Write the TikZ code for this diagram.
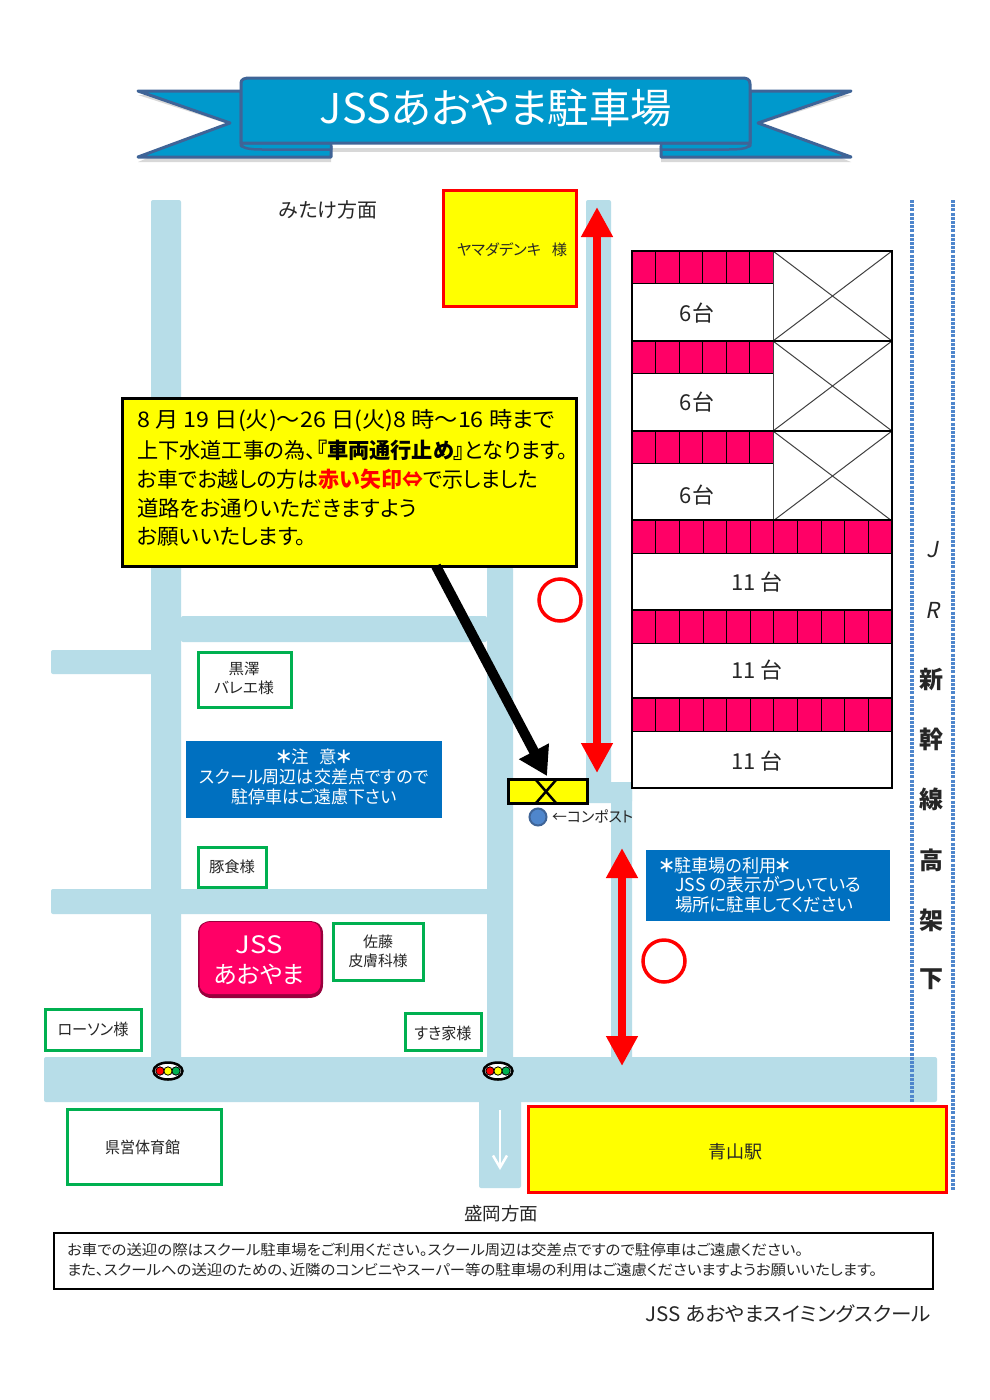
\documentclass[tikz,border=0pt]{standalone}
\usepackage{fontspec}
\usepackage{graphicx}
\setmainfont[RawFeature={+palt}]{Noto Sans CJK JP}
\newfontfamily\slantfont[FakeSlant=0.2]{Noto Sans CJK JP}
\usetikzlibrary{arrows.meta,shapes.geometric}
\definecolor{road}{HTML}{B7DDE8}
\definecolor{pinkc}{HTML}{FF0066}
\definecolor{bannerc}{HTML}{0099CC}
\definecolor{bannerl}{HTML}{3F6497}
\definecolor{greenb}{HTML}{00B050}
\definecolor{blueb}{HTML}{0070C0}
\definecolor{txt}{HTML}{262626}
\definecolor{dotb}{HTML}{4F86CC}
\definecolor{yel}{RGB}{255,255,0}
\definecolor{redc}{RGB}{255,0,0}
\newcommand{\fs}[1]{\fontsize{#1}{\fpeval{#1*1.25}pt}\selectfont}
\newcommand{\fw}[2]{\resizebox{#1pt}{\height}{#2}}
\tikzset{
 x=1pt,y=-1pt,
 txtnode/.style={inner sep=0pt,text=txt,align=center},
 greenbox/.style={draw=greenb,line width=3pt,fill=white,text=txt,align=center,inner sep=0pt,font=\fs{15}},
 bluebox/.style={fill=blueb,text=white,align=center,inner sep=0pt,font=\fs{17.5}},
 yellowred/.style={draw=redc,line width=3pt,fill=yel,text=txt,align=center,inner sep=0pt},
 roadc/.style={fill=road,rounded corners=2pt},
 redarrow/.style={draw=redc,line width=8pt,{Triangle[length=30pt,width=30pt]}-{Triangle[length=30pt,width=30pt]}},
 blackarrow/.style={draw=black,line width=10pt,-{Triangle[length=28pt,width=32pt]}},
 banner/.style={draw=bannerl,line width=3pt,fill=bannerc,line join=round},
 cell/.style={draw=black,line width=0.7pt,fill=pinkc},
 frame/.style={draw=black,line width=2.5pt},
 thin/.style={draw=black!75,line width=1pt},
 dotline/.style={draw=dotb,line width=3.5pt,dash pattern=on 3pt off 1.2pt},
}
\begin{document}
\begin{tikzpicture}
\useasboundingbox (0,0) rectangle (990,1400);
\fill[white] (0,0) rectangle (990,1400);
% banner shadow
\fill[black!30,opacity=.5] (138,95) -- (241,95) -- (241,150) -- (331,150) -- (331,162) -- (138,162) -- (228,124) -- cycle;
\fill[black!30,opacity=.5] (851,95) -- (750,95) -- (750,150) -- (661,150) -- (661,162) -- (851,162) -- (760,124) -- cycle;
\fill[black!30,opacity=.5] (241,148) rectangle (750,152);
% banner tails
\path[banner] (138,91) -- (241,91) -- (241,146) -- (331,146) -- (331,157) -- (138,157) -- (230,123) -- cycle;
\path[banner] (851,91) -- (750,91) -- (750,146) -- (661,146) -- (661,157) -- (851,157) -- (758,123) -- cycle;
% lips
\path[banner,line width=2.5pt] (241,143) .. controls (241,148) and (248,149.5) .. (262,149.5) -- (331,149.5) -- (331,143) -- cycle;
\path[banner,line width=2.5pt] (750,143) .. controls (750,148) and (743,149.5) .. (729,149.5) -- (661,149.5) -- (661,143) -- cycle;
% main
\path[banner] (241,83) .. controls (241,79) and (245,78) .. (250,78) -- (741,78) .. controls (747,78) and (750,79) .. (750,84) -- (750,143) -- (241,143) -- cycle;
\node[text=white,inner sep=0pt,font=\fs{41}] (title) at (496,108) {\fw{352}{JSSあおやま駐車場}};

% roads
\path[roadc] (151,200) rectangle (181,1070);
\path[roadc] (487,567) rectangle (513,1070);
\path[roadc] (181,616) rectangle (487,642);
\path[roadc] (51,650) rectangle (160,674);
\path[roadc] (51,889) rectangle (490,914);
\path[roadc] (44,1057) rectangle (937,1102);
\path[roadc] (479,1095) rectangle (521,1188);
\path[roadc] (586,200) rectangle (611,800);
\path[roadc] (586,782) rectangle (632,803);
\path[roadc] (611,782) rectangle (632,1065);
\coordinate (dnA) at (500,1110); \coordinate (dnB) at (500,1170);
\draw[white,line width=2.5pt,-{Straight Barb[length=12pt,width=14pt]}] (dnA) -- (dnB);

% dotted lines
\coordinate (dA) at (912,200); \coordinate (dB) at (912,1102);
\coordinate (dC) at (953,200); \coordinate (dD) at (953,1190);
\draw[dotline] (dA) -- (dB);
\draw[dotline] (dC) -- (dD);

% parking
\foreach \t in {251,341,431}{
  \foreach \i in {0,...,5}{
    \path[cell] ({632+\i*23.5},\t) rectangle ({632+(\i+1)*23.5},\t+32);
  }
  \draw[thin] (773,\t) rectangle (892,\t+90);
  \draw[thin] (773,\t) -- (892,\t+90);
  \draw[thin] (892,\t) -- (773,\t+90);
}
\foreach \t in {520,610,698}{
  \foreach \i in {0,...,10}{
    \path[cell] ({632+\i*23.64},\t) rectangle ({632+(\i+1)*23.64},\t+33);
  }
}
\draw[frame] (632,251) rectangle (892,788);
\foreach \yy in {341,431,520,610,698}{\draw[frame] (632,\yy) -- (892,\yy);}
\node[txtnode,font=\fs{22}] (p1) at (697,313) {6台};
\node[txtnode,font=\fs{22}] (p2) at (697,402) {6台};
\node[txtnode,font=\fs{22}] (p3) at (697,495) {6台};
\node[txtnode,font=\fs{22}] (p4) at (757,582) {11 台};
\node[txtnode,font=\fs{22}] (p5) at (757,670) {11 台};
\node[txtnode,font=\fs{22}] (p6) at (757,761) {11 台};

% yamada
\node[yellowred,minimum width=133pt,minimum height=116pt] (yamada) at (509.5,248) {};
\node[txtnode,font=\fs{15}] (yamadat) at (512,250) {\fw{110}{ヤマダデンキ\hspace{0.7em}様}};
\node[txtnode,font=\fs{20}] (mitake) at (328,210) {\fw{98}{みたけ方面}};

% compost
\node[draw=black,line width=3pt,fill=yel,minimum width=79pt,minimum height=24pt,inner sep=0pt] (ybox) at (547.5,791.5) {};
\draw[black,line width=2.5pt] (536,780) -- (556,803);
\draw[black,line width=2.5pt] (556,780) -- (536,803);
\node[circle,fill=dotb,draw=bannerl,line width=2pt,minimum size=17pt,inner sep=0pt] (post) at (538,817) {};
\node[txtnode,font=\fs{15},anchor=west] (postt) at (552,816) {\fw{81}{←コンポスト}};

% notice and arrows
\coordinate (ra1) at (597,207); \coordinate (ra2) at (597,773);
\coordinate (rb1) at (622,848); \coordinate (rb2) at (622,1066);
\draw[redarrow] (ra1) -- (ra2);
\draw[redarrow] (rb1) -- (rb2);
\node[draw=redc,line width=3.5pt,circle,minimum size=42pt,inner sep=0pt] (c1) at (560,600) {};
\node[draw=redc,line width=3.5pt,circle,minimum size=42pt,inner sep=0pt] (c2) at (664,961) {};
\node[draw=black,line width=3pt,fill=yel,minimum width=454pt,minimum height=168pt,inner sep=0pt] (notice) at (349,482) {};
\coordinate (ka) at (436,566); \coordinate (kb) at (547,776);
\draw[blackarrow] (ka) -- (kb);
\begin{scope}[every node/.style={anchor=west,inner sep=0pt,text=black,font=\fs{21.5}}]
\node (n1) at (137,421) {\fw{418}{8 月 19 日(火)～26 日(火)8 時～16 時まで}};
\node (n2) at (137,450) {\fw{431}{上下水道工事の為、\textbf{『車両通行止め』}となります。}};
\node (n3) at (137,479) {\fw{401}{お車でお越しの方は{\color{redc}\textbf{赤い矢印⇔}}で示しました}};
\node (n4) at (137,508) {\fw{280}{道路をお通りいただきますよう}};
\node (n5) at (137,537) {\fw{169}{お願いいたします。}};
\end{scope}

% blue boxes
\node[bluebox,minimum width=256pt,minimum height=77pt] (b1) at (314,779.5) {};
\node[inner sep=0pt,text=white,font=\fs{17.5}] (b1a) at (314,757) {\fw{74}{\textbf{＊}注\hspace{0.6em}意\textbf{＊}}};
\node[inner sep=0pt,text=white,font=\fs{17.5}] (b1b) at (314,777) {\fw{229}{スクール周辺は交差点ですので}};
\node[inner sep=0pt,text=white,font=\fs{17.5}] (b1c) at (314,797) {\fw{165}{駐停車はご遠慮下さい}};
\node[bluebox,minimum width=244pt,minimum height=71pt] (b2) at (768,885.5) {};
\node[anchor=west,inner sep=0pt,text=white,font=\fs{18}] (b2a) at (660,866) {\fw{130}{\textbf{＊}駐車場の利用\textbf{＊}}};
\node[anchor=west,inner sep=0pt,text=white,font=\fs{18}] (b2b) at (675,885) {\fw{186}{JSS の表示がついている}};
\node[anchor=west,inner sep=0pt,text=white,font=\fs{18}] (b2c) at (675,905) {\fw{178}{場所に駐車してください}};

% green boxes
\node[greenbox,minimum width=93pt,minimum height=55pt] (kuro) at (244.5,679.5) {};
\node[txtnode,font=\fs{15}] (kurot) at (244,678) {\fw{31}{黒澤}\\\fw{60}{バレエ様}};
\node[greenbox,minimum width=68pt,minimum height=40pt] (buta) at (232,867) {\fw{46}{豚食様}};
\node[greenbox,minimum width=90pt,minimum height=57pt] (sato) at (378,951.5) {\fw{30}{佐藤}\\\fw{59}{皮膚科様}};
\node[greenbox,minimum width=96pt,minimum height=41pt,font=\fs{16}] (law) at (93,1029.5) {\fw{71}{ローソン様}};
\node[greenbox,minimum width=76pt,minimum height=37pt,font=\fs{16}] (suki) at (443,1031.5) {};
\node[txtnode,font=\fs{16}] (sukit) at (443,1033) {\fw{57}{すき家様}};
\node[greenbox,minimum width=154pt,minimum height=75pt] (ken) at (144,1146.5) {};
\node[txtnode,font=\fs{16}] (kent) at (142.5,1147) {\fw{75}{県営体育館}};
\node[yellowred,minimum width=418pt,minimum height=86pt] (aoyama) at (737,1149) {};
\node[txtnode,font=\fs{18}] (aoyamat) at (735,1152) {\fw{54}{青山駅}};

% JSS
\fill[pinkc!60!black] (198,934) .. controls (198,924) and (204,921) .. (212,921) -- (308,921) .. controls (318,921) and (323,925) .. (323,934) -- (323,984) .. controls (323,993) and (318,998) .. (308,998) -- (212,998) .. controls (204,998) and (198,993) .. (198,984) -- cycle;
\node[fill=pinkc,rounded corners=10pt,minimum width=121pt,minimum height=72pt,inner sep=0pt,text=white,align=center,font=\fs{24}] (jss) at (260,958) {};
\node[inner sep=0pt,text=white,align=center,font=\fs{24}] (jsst) at (259,960) {\fw{47}{JSS}\\\fw{91}{あおやま}};

% signals
\foreach \n/\xx in {s1/168,s2/498}{
  \node[ellipse,draw=black,line width=2.5pt,fill=white,minimum width=29pt,minimum height=17pt,inner sep=0pt] (\n) at (\xx,1071) {};
  \fill[redc] (\xx-8,1071) circle (4.2pt);
  \fill[yel] (\xx,1071) circle (4.2pt);
  \fill[greenb] (\xx+8,1071) circle (4.2pt);
  \draw[black,line width=.8pt] (\xx-8,1071) circle (4.2pt) (\xx,1071) circle (4.2pt) (\xx+8,1071) circle (4.2pt);
}

% vertical text
\foreach \n/\yy/\ch in {v3/680/新,v4/739/幹,v5/799/線,v6/860/高,v7/920/架,v8/979/下}{
  \node[txtnode,font=\fs{24}\bfseries] (\n) at (931,\yy) {\ch};
}
\node[txtnode,font=\fs{22}\slantfont] (v1) at (932,550) {J};
\node[txtnode,font=\fs{22}\slantfont] (v2) at (932,610) {R};

\node[txtnode,font=\fs{18}] (mori) at (501,1214) {\fw{74}{盛岡方面}};
\node[draw=black,line width=1.5pt,minimum width=879pt,minimum height=56pt,inner sep=0pt] (foot) at (493.5,1261) {};
\node[txtnode,font=\fs{14.6},anchor=west] (f1) at (67,1250) {\fw{736}{お車での送迎の際はスクール駐車場をご利用ください。スクール周辺は交差点ですので駐停車はご遠慮ください。}};
\node[txtnode,font=\fs{14.6},anchor=west] (f2) at (67,1270) {\fw{810}{また、スクールへの送迎のための、近隣のコンビニやスーパー等の駐車場の利用はご遠慮くださいますようお願いいたします。}};
\node[txtnode,font=\fs{20},anchor=east] (sign) at (931,1314) {\fw{285}{JSS あおやまスイミングスクール}};
\end{tikzpicture}
\end{document}
